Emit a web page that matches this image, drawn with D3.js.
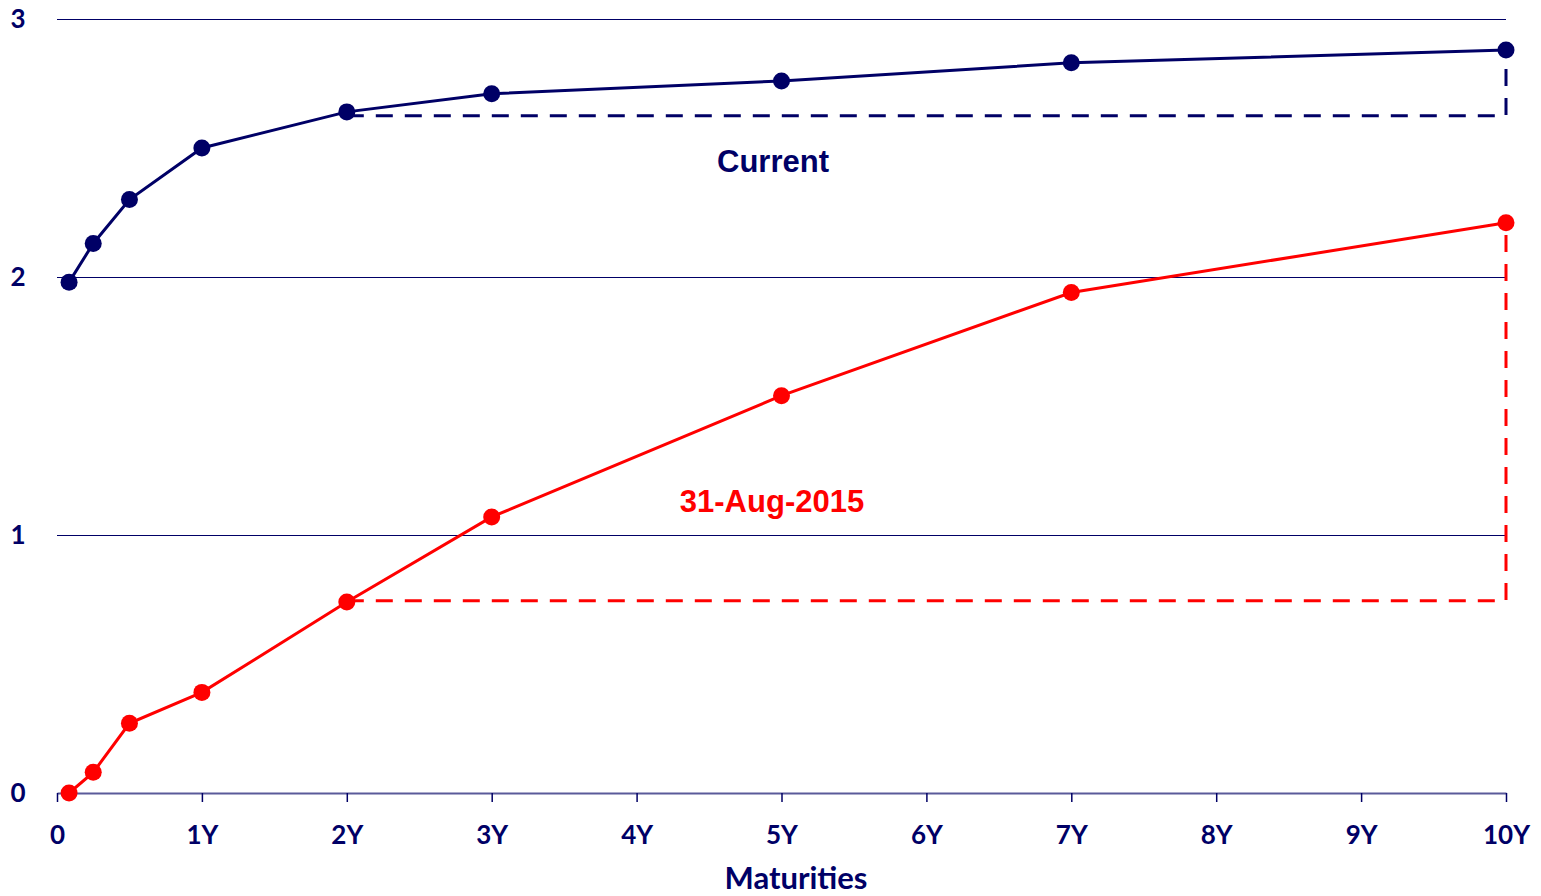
<!DOCTYPE html>
<html><head><meta charset="utf-8">
<script src="https://cdn.jsdelivr.net/npm/d3@7"></script>
<style>body{margin:0;background:#fff;}svg{display:block;font-family:Lato,"Open Sans",sans-serif;font-weight:bold;}</style>
</head><body>
<svg id="c" width="1541" height="896"></svg>
<script>
const maturities = [1/12, 0.25, 0.5, 1, 2, 3, 5, 7, 10];
const currentYields = [1.98, 2.13, 2.30, 2.50, 2.64, 2.71, 2.76, 2.83, 2.88];
const augYields = [0.00, 0.08, 0.27, 0.39, 0.74, 1.07, 1.54, 1.94, 2.21];
const currentSpreadBase = 2.625;
const augSpreadBase = 0.745;
const xTicks = [0,1,2,3,4,5,6,7,8,9,10];
const xTickLabels = ["0","1Y","2Y","3Y","4Y","5Y","6Y","7Y","8Y","9Y","10Y"];
const yTicks = [0,1,2,3];

const navy = "#000066", red = "#ff0000";
const svg = d3.select("#c");
const x = d3.scaleLinear().domain([0,10]).range([57,1506]);
const y = d3.scaleLinear().domain([0,3]).range([793,19]);

// gridlines
svg.append("g").selectAll("line").data(yTicks.filter(d=>d>0)).join("line")
  .attr("x1",x(0)).attr("x2",x(10)).attr("y1",d=>Math.round(y(d))+0.5).attr("y2",d=>Math.round(y(d))+0.5)
  .attr("stroke",navy).attr("stroke-width",1);

// y labels
svg.append("g").selectAll("text").data(yTicks).join("text")
  .attr("x",18).attr("y",d=>y(d)).attr("dy","0.36em").attr("text-anchor","middle")
  .attr("fill",navy).attr("font-size",26).text(d=>d);

// x axis
const xa = svg.append("g").attr("transform",`translate(0,${y(0)})`)
  .call(d3.axisBottom(x).tickValues(xTicks).tickFormat((d,i)=>xTickLabels[i]).tickSize(9).tickPadding(33).tickSizeOuter(0));
xa.select(".domain").attr("stroke","#5a5a9a").attr("stroke-width",2);
xa.selectAll(".tick line").attr("stroke",navy).attr("stroke-width",1.5);
xa.selectAll(".tick text").attr("fill",navy).attr("font-size",26).attr("dy","0.36em")
  .attr("font-family","Lato,sans-serif").attr("font-weight","bold");

svg.append("text").attr("x",796).attr("y",889).attr("text-anchor","middle")
  .attr("fill",navy).attr("font-size",31).text("Maturities");

function series(vals, base, color, label, lx, ly){
  const g = svg.append("g");
  const pts = maturities.map((m,i)=>[m,vals[i]]);
  const last = maturities.length-1;
  g.append("path").attr("fill","none").attr("stroke",color).attr("stroke-width",3)
    .attr("stroke-dasharray","17,12")
    .attr("d", d3.line()([[x(2),y(base)],[x(10),y(base)],[x(10),y(vals[last])]]));
  g.append("path").datum(pts).attr("fill","none").attr("stroke",color).attr("stroke-width",3)
    .attr("d", d3.line().x(d=>x(d[0])).y(d=>y(d[1])));
  g.selectAll("circle").data(pts).join("circle")
    .attr("cx",d=>x(d[0])).attr("cy",d=>y(d[1])).attr("r",8.5).attr("fill",color);
  g.append("text").attr("x",lx).attr("y",ly).attr("text-anchor","middle").attr("fill",color)
    .attr("font-family","'Liberation Sans',Arial,sans-serif")
    .attr("font-size",31).attr("dy","0.36em").text(label);
}
series(currentYields, currentSpreadBase, navy, "Current", 773, 161);
series(augYields, augSpreadBase, red, "31-Aug-2015", 772, 501);
</script>
</body></html>
